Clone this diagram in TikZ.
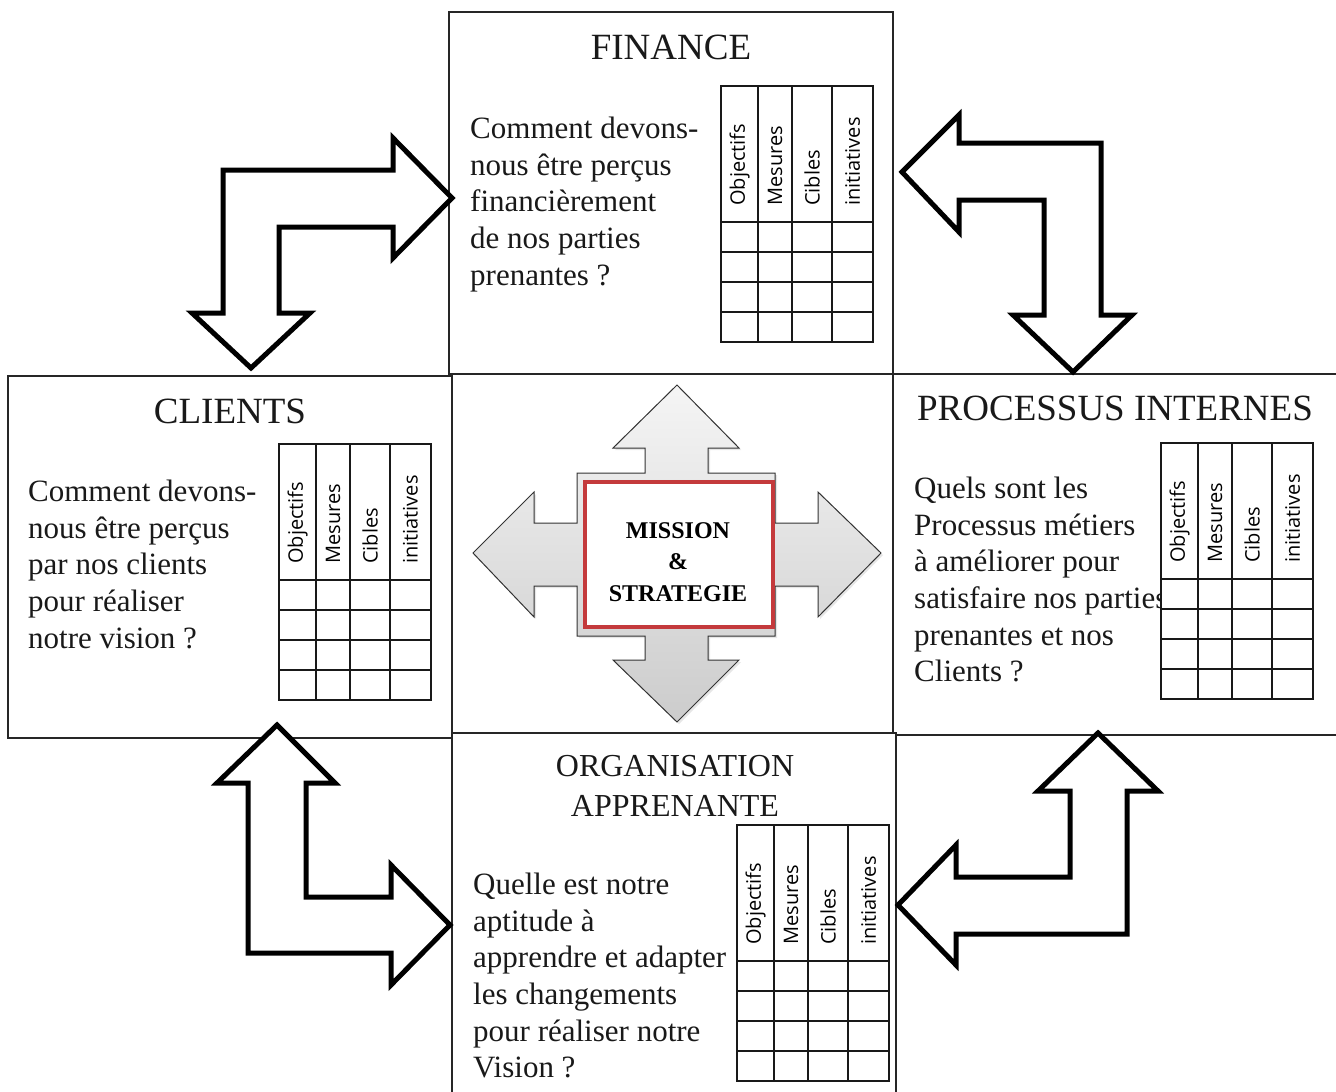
\documentclass[tikz,border=0pt]{standalone}
\usepackage{fontspec}
\setmainfont{Liberation Serif}
\newfontfamily\headfont{Open Sans}
\usetikzlibrary{shadows}

\definecolor{missionred}{RGB}{196,58,60}

% one small table: #1 = name, #2 = top left corner
\newcommand{\tableau}[2]{%
    \begin{scope}[shift={#2}]
        \draw[grid, fill=white] (0,0) rectangle (152,256);
        \foreach \x in {37,71,111}
            \draw[grid] (\x,0) -- (\x,256);
        \foreach \y in {136,166,196,226}
            \draw[grid] (0,\y) -- (152,\y);
        \foreach \lab / \c [count=\i] in {Objectifs/18.5,Mesures/54,Cibles/91,initiatives/131.5}
            \node[colhead] (#1-\i) at (\c,120) {\lab};
    \end{scope}}

\begin{document}
\begin{tikzpicture}[x=1pt, y=-1pt]
    \tikzstyle{panel}=[draw=black!85, line width=1.5pt, fill=white]
    \tikzstyle{grid}=[draw=black!90, line width=1.2pt]
    \tikzstyle{colhead}=[font=\headfont\fontsize{20}{24}\selectfont, rotate=90, anchor=west, inner sep=0pt]
    \tikzstyle{title}=[font=\fontsize{37}{44}\selectfont, text=black!90, inner sep=0pt]
    \tikzstyle{subtitle}=[title, font=\fontsize{32}{40}\selectfont, align=center]
    \tikzstyle{question}=[font=\fontsize{31}{36.6}\selectfont, text=black!90, align=left, anchor=north west, inner sep=0pt]
    \tikzstyle{bigarrow}=[draw=black, line width=5pt, fill=white, line join=miter]
    \tikzstyle{cross}=[draw=black!80, line width=1pt, top color=gray!8, bottom color=gray!40,
        drop shadow={opacity=.2, shadow xshift=2pt, shadow yshift=-2pt}]
    \tikzstyle{missionbox}=[draw=missionred, line width=4pt, fill=white, minimum width=188pt,
        minimum height=145pt, inner sep=0pt]
    \tikzstyle{missiontext}=[align=center, inner sep=0pt, font=\fontsize{24}{31.5}\selectfont\bfseries]

    \useasboundingbox (0,0) rectangle (1336,1092);
    \clip (0,0) rectangle (1336,1092);

    % Draw the four panels
    \draw[panel] (449,12) rectangle (893,374);
    \draw[panel] (8,376) rectangle (452,738);
    \draw[panel] (893,374) rectangle (1350,735);
    \draw[panel] (452,733) rectangle (896,1100);

    % Titles
    \node[title] (finance) at (671,47) {FINANCE};
    \node[title] (clients) at (230,411) {CLIENTS};
    \node[title] (processus) at (1115,408) {PROCESSUS INTERNES};
    \node[subtitle] (organisation) at (675,786) {ORGANISATION\\APPRENANTE};

    % Questions
    \node[question] (q-fin) at (470,117) {Comment devons-\\nous être perçus\\financièrement\\de nos parties\\prenantes ?};
    \node[question] (q-cli) at (28,480) {Comment devons-\\nous être perçus\\par nos clients\\pour réaliser\\notre vision ?};
    \node[question] (q-pro) at (914,477) {Quels sont les\\Processus métiers\\à améliorer pour\\satisfaire nos parties\\prenantes et nos\\Clients ?};
    \node[question] (q-org) at (473,873) {Quelle est notre\\aptitude à\\apprendre et adapter\\les changements\\pour réaliser notre\\Vision ?};

    % Tables
    \tableau{t-fin}{(721,86)}
    \tableau{t-cli}{(279,444)}
    \tableau{t-pro}{(1161,443)}
    \tableau{t-org}{(737,825)}

    % Hollow arrows between the panels
    \draw[bigarrow] (223,313) -- (223,170) -- (393,170) -- (393,138) -- (452,198) -- (393,258)
        -- (393,227) -- (279,227) -- (279,313) -- (310,313) -- (251,368) -- (192,313) -- cycle;
    \draw[bigarrow] (902,172) -- (959,115) -- (959,143) -- (1101,143) -- (1101,315) -- (1132,315)
        -- (1073,372) -- (1013,315) -- (1044,315) -- (1044,200) -- (959,200) -- (959,232) -- cycle;
    \draw[bigarrow] (277,725) -- (335,783) -- (306,783) -- (306,897) -- (391,897) -- (391,865)
        -- (450,925) -- (391,985) -- (391,953) -- (248,953) -- (248,783) -- (217,783) -- cycle;
    \draw[bigarrow] (1098,733) -- (1158,791) -- (1127,791) -- (1127,934) -- (956,934) -- (956,965)
        -- (898,905) -- (956,845) -- (956,877) -- (1070,877) -- (1070,791) -- (1038,791) -- cycle;

    % Central cross of arrows
    \path[cross] (677,385) -- (739,448) -- (708,448) -- (708,473) -- (775,473) -- (775,523)
        -- (818,523) -- (818,492) -- (881,553) -- (818,617) -- (818,586) -- (775,586)
        -- (775,636) -- (708,636) -- (708,660) -- (739,660) -- (677,722) -- (613,660)
        -- (645,660) -- (645,636) -- (577,636) -- (577,586) -- (534,586) -- (534,617)
        -- (473,553) -- (534,492) -- (534,523) -- (577,523) -- (577,473) -- (645,473)
        -- (645,448) -- (613,448) -- cycle;
    \node[missionbox] (mission) at (679,554.5) {};
    \node[missiontext] (mission-text) at (678,562) {MISSION\\\&\\STRATEGIE};
\end{tikzpicture}
\end{document}
